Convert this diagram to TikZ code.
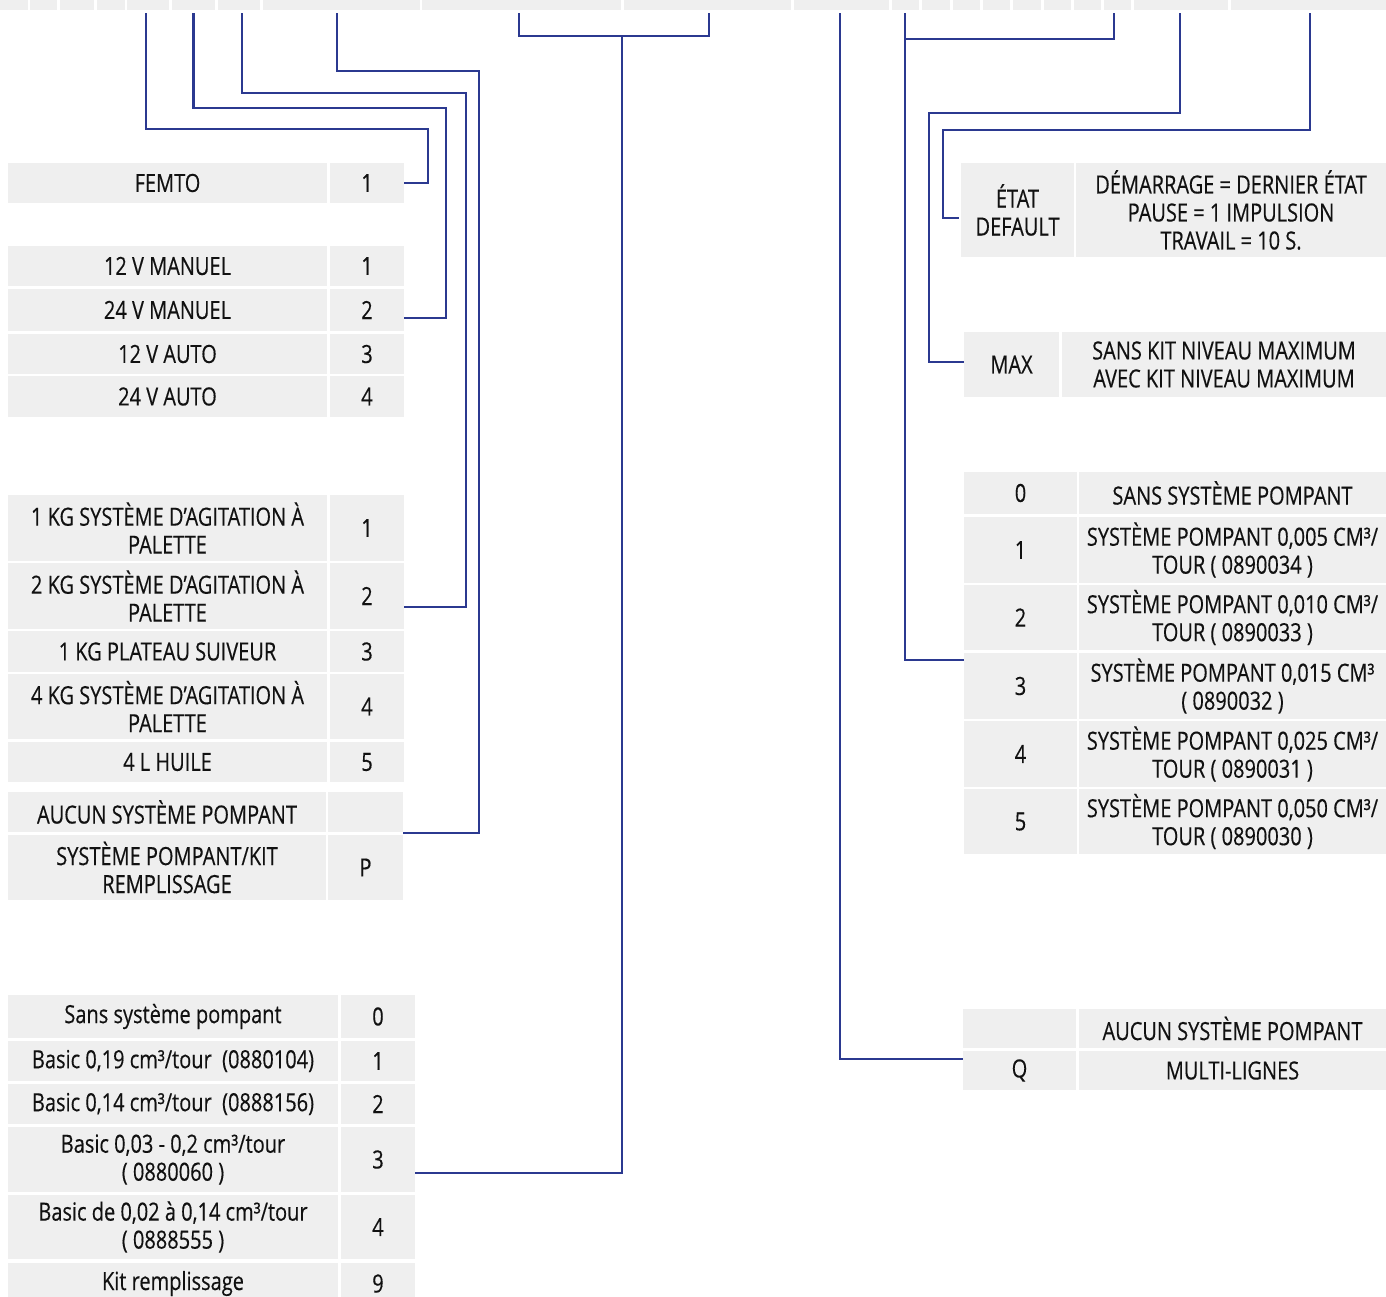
\documentclass[tikz,border=0pt]{standalone}
\usepackage{fontspec}
\setmainfont{Open Sans}[FakeStretch=0.8,FakeBold=0.35]
\usetikzlibrary{calc}
\definecolor{cellgray}{HTML}{EFEFEF}
\definecolor{navy}{HTML}{2B3990}
\definecolor{ink}{HTML}{111111}
% \cellnode{name}{x1}{y1}{x2}{y2}{text}
\newcommand\cellnode[6]{\node[cellbox, minimum width={(#4-#2)*1pt}, minimum height={(#5-#3)*1pt}] (#1) at ({(#2+#4)/2},{(#3+#5)/2}) {#6};}
\begin{document}
\begin{tikzpicture}[x=1pt,y=-1pt,
  cellbox/.style={fill=cellgray, inner sep=0pt, outer sep=0pt, align=center, text=ink, font=\fontsize{25}{28}\selectfont},
  conn/.style={draw=navy, line width=2.6pt, line join=miter}]
\useasboundingbox[fill=white] (0,0) rectangle (1386,1297);

% top strip
\cellnode{t1}{0}{0}{28}{10}{}
\cellnode{t2}{30}{0}{57}{10}{}
\cellnode{t3}{60}{0}{94}{10}{}
\cellnode{t4}{97}{0}{125}{10}{}
\cellnode{t5}{127}{0}{169}{10}{}
\cellnode{t6}{172}{0}{215}{10}{}
\cellnode{t7}{218}{0}{260}{10}{}
\cellnode{t8}{263}{0}{420}{10}{}
\cellnode{t9}{422}{0}{621}{10}{}
\cellnode{t10}{624}{0}{791}{10}{}
\cellnode{t11}{794}{0}{889}{10}{}
\cellnode{t12}{892}{0}{919}{10}{}
\cellnode{t13}{922}{0}{950}{10}{}
\cellnode{t14}{953}{0}{980}{10}{}
\cellnode{t15}{983}{0}{1010}{10}{}
\cellnode{t16}{1013}{0}{1041}{10}{}
\cellnode{t17}{1044}{0}{1071}{10}{}
\cellnode{t18}{1074}{0}{1101}{10}{}
\cellnode{t19}{1104}{0}{1131}{10}{}
\cellnode{t20}{1134}{0}{1228}{10}{}
\cellnode{t21}{1231}{0}{1386}{10}{}

% left tables
\cellnode{femtoL}{8}{163}{327}{203}{FEMTO}
\cellnode{femtoV}{330}{163}{404}{203}{1}

\cellnode{v1L}{8}{246}{327}{286}{12 V MANUEL}
\cellnode{v1V}{330}{246}{404}{286}{1}
\cellnode{v2L}{8}{289}{327}{331}{24 V MANUEL}
\cellnode{v2V}{330}{289}{404}{331}{2}
\cellnode{v3L}{8}{334}{327}{374}{12 V AUTO}
\cellnode{v3V}{330}{334}{404}{374}{3}
\cellnode{v4L}{8}{376}{327}{417}{24 V AUTO}
\cellnode{v4V}{330}{376}{404}{417}{4}

\cellnode{a1L}{8}{495}{327}{561}{1 KG SYSTÈME D’AGITATION À\\PALETTE}
\cellnode{a1V}{330}{495}{404}{561}{1}
\cellnode{a2L}{8}{563}{327}{629}{2 KG SYSTÈME D’AGITATION À\\PALETTE}
\cellnode{a2V}{330}{563}{404}{629}{2}
\cellnode{a3L}{8}{631}{327}{672}{1 KG PLATEAU SUIVEUR}
\cellnode{a3V}{330}{631}{404}{672}{3}
\cellnode{a4L}{8}{674}{327}{739}{4 KG SYSTÈME D’AGITATION À\\PALETTE}
\cellnode{a4V}{330}{674}{404}{739}{4}
\cellnode{a5L}{8}{742}{327}{782}{4 L HUILE}
\cellnode{a5V}{330}{742}{404}{782}{5}

\cellnode{p1L}{8}{792}{326}{832}{AUCUN SYSTÈME POMPANT}
\cellnode{p1V}{328}{792}{403}{832}{}
\cellnode{p2L}{8}{835}{326}{900}{SYSTÈME POMPANT/KIT\\REMPLISSAGE}
\cellnode{p2V}{328}{835}{403}{900}{P}

\cellnode{b0L}{8}{995}{338}{1038}{Sans système pompant}
\cellnode{b0V}{341}{995}{415}{1038}{0}
\cellnode{b1L}{8}{1041}{338}{1081}{Basic 0,19 cm³/tour\ \ (0880104)}
\cellnode{b1V}{341}{1041}{415}{1081}{1}
\cellnode{b2L}{8}{1084}{338}{1124}{Basic 0,14 cm³/tour\ \ (0888156)}
\cellnode{b2V}{341}{1084}{415}{1124}{2}
\cellnode{b3L}{8}{1127}{338}{1192}{Basic 0,03 - 0,2 cm³/tour\\( 0880060 )}
\cellnode{b3V}{341}{1127}{415}{1192}{3}
\cellnode{b4L}{8}{1195}{338}{1259}{Basic de 0,02 à 0,14 cm³/tour\\( 0888555 )}
\cellnode{b4V}{341}{1195}{415}{1259}{4}
\cellnode{b5L}{8}{1263}{338}{1304}{Kit remplissage}
\cellnode{b5V}{341}{1263}{415}{1304}{9}

% right tables
\cellnode{etatL}{961}{163}{1074}{257}{ÉTAT\\DEFAULT}
\cellnode{etatV}{1076}{163}{1386}{257}{DÉMARRAGE = DERNIER ÉTAT\\PAUSE = 1 IMPULSION\\TRAVAIL = 10 S.}

\cellnode{maxL}{964}{332}{1059}{397}{MAX}
\cellnode{maxV}{1062}{332}{1386}{397}{SANS KIT NIVEAU MAXIMUM\\AVEC KIT NIVEAU MAXIMUM}

\cellnode{r0V}{964}{472}{1077}{514}{0}
\cellnode{r0L}{1079}{472}{1386}{514}{SANS SYSTÈME POMPANT}
\cellnode{r1V}{964}{517}{1077}{583}{1}
\cellnode{r1L}{1079}{517}{1386}{583}{SYSTÈME POMPANT 0,005 CM³/\\TOUR ( 0890034 )}
\cellnode{r2V}{964}{585}{1077}{650}{2}
\cellnode{r2L}{1079}{585}{1386}{650}{SYSTÈME POMPANT 0,010 CM³/\\TOUR ( 0890033 )}
\cellnode{r3V}{964}{653}{1077}{719}{3}
\cellnode{r3L}{1079}{653}{1386}{719}{SYSTÈME POMPANT 0,015 CM³\\( 0890032 )}
\cellnode{r4V}{964}{721}{1077}{787}{4}
\cellnode{r4L}{1079}{721}{1386}{787}{SYSTÈME POMPANT 0,025 CM³/\\TOUR ( 0890031 )}
\cellnode{r5V}{964}{789}{1077}{854}{5}
\cellnode{r5L}{1079}{789}{1386}{854}{SYSTÈME POMPANT 0,050 CM³/\\TOUR ( 0890030 )}

\cellnode{q0V}{963}{1009}{1076}{1048}{}
\cellnode{q0L}{1079}{1009}{1386}{1048}{AUCUN SYSTÈME POMPANT}
\cellnode{q1V}{963}{1051}{1076}{1090}{Q}
\cellnode{q1L}{1079}{1051}{1386}{1090}{MULTI-LIGNES}

% connector start points
\coordinate (s5) at ([xshift=-2pt,yshift=-3.5pt]t5.south);
\coordinate (s6) at ([yshift=-3.5pt]t6.south);
\coordinate (s7) at ([xshift=3pt,yshift=-3.5pt]t7.south);
\coordinate (s8) at ([xshift=-4.5pt,yshift=-3.5pt]t8.south);
\coordinate (s9) at ([xshift=-2.5pt,yshift=-3.5pt]t9.south);
\coordinate (s10) at ([xshift=1.5pt,yshift=-3.5pt]t10.south);
\coordinate (s11) at ([xshift=-1.5pt,yshift=-3.5pt]t11.south);
\coordinate (s12) at ([xshift=-0.5pt,yshift=-3.5pt]t12.south);
\coordinate (s19) at ([xshift=-3.5pt,yshift=-3.5pt]t19.south);
\coordinate (s20) at ([xshift=-1pt,yshift=-3.5pt]t20.south);
\coordinate (s21) at ([xshift=1.5pt,yshift=-3.5pt]t21.south);
\coordinate (j1) at (622,36);
\coordinate (j2) at (905,39);

% left connectors
\draw[conn] (s5) |- (428,129) |- (femtoV.east);
\draw[conn] (s6) |- (446,108) |- (v2V.east |- 0,318);
\draw[conn] (s7) |- (466,93) |- (a2V.east |- 0,607);
\draw[conn] (s8) |- (479,71) |- (p1V.east |- 0,833);
\draw[conn] (s9) |- (j1) -| (s10);
\draw[conn] (j1) |- (b3V.east |- 0,1173);

% right connectors
\draw[conn] (s11) |- (q1V.west |- 0,1059);
\draw[conn] (s12) |- (j2) -| (s19);
\draw[conn] (j2) |- (r3V.west |- 0,660);
\draw[conn] (s20) |- (929,113) |- (maxL.west |- 0,362);
\draw[conn] (s21) |- (943,130) |- ([xshift=-2pt]etatL.west |- 0,218);
\end{tikzpicture}
\end{document}
